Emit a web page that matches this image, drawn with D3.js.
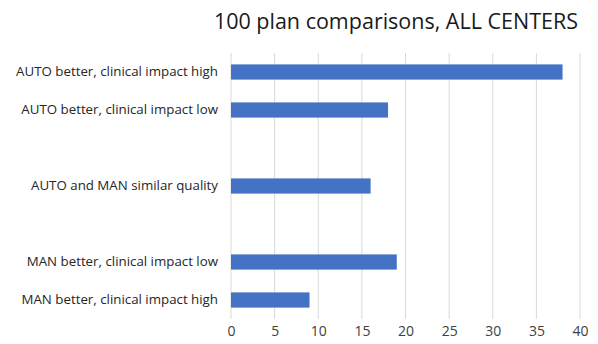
<!DOCTYPE html>
<html>
<head>
<meta charset="utf-8">
<script src="https://cdn.jsdelivr.net/npm/d3@7"></script>
<style>
  body { margin: 0; background: #fff; }
  text { font-family: "Open Sans", "Noto Sans", sans-serif; }
</style>
</head>
<body>
<div class="chart"></div>
<script>
const w = 598;
const h = 344;

// rows top to bottom, blank rows are empty slots in the chart
const categories = [
  'AUTO better, clinical impact high',
  'AUTO better, clinical impact low',
  'gap1',
  'AUTO and MAN similar quality',
  'gap2',
  'MAN better, clinical impact low',
  'MAN better, clinical impact high'
];
const values = [38, 18, null, 16, null, 19, 9];
const xTicks = [0, 5, 10, 15, 20, 25, 30, 35, 40];
const title = '100 plan comparisons, ALL CENTERS';

const plotLeft = 231;
const plotRight = 580;
const plotTop = 53;
const plotBottom = 319;

const svg = d3.select('.chart')
  .append('svg')
  .attr('width', w)
  .attr('height', h);

const xScale = d3.scaleLinear().domain([0, 40]).range([plotLeft, plotRight]);
const yScale = d3.scaleBand()
  .domain(categories)
  .range([plotTop, plotBottom])
  .paddingInner(0.6)
  .paddingOuter(0.3);

// gridlines
svg.append('g')
  .selectAll('line')
  .data(xTicks)
  .enter()
  .append('line')
  .attr('x1', d => xScale(d))
  .attr('x2', d => xScale(d))
  .attr('y1', plotTop)
  .attr('y2', plotBottom)
  .attr('stroke', '#d9d9d9')
  .attr('stroke-width', 1);

// bars
const rows = categories.map((c, i) => ({ c, v: values[i] })).filter(d => d.v != null);
svg.append('g')
  .selectAll('rect')
  .data(rows)
  .enter()
  .append('rect')
  .attr('x', xScale(0))
  .attr('y', d => yScale(d.c))
  .attr('width', d => xScale(d.v) - xScale(0))
  .attr('height', yScale.bandwidth())
  .attr('fill', '#4472c4');

// category labels
const yAxis = d3.axisLeft(yScale)
  .tickSize(0)
  .tickPadding(13)
  .tickFormat(d => d.startsWith('gap') ? '' : d);
svg.append('g')
  .attr('transform', `translate(${plotLeft},0)`)
  .call(yAxis)
  .call(g => g.select('.domain').remove())
  .selectAll('text')
  .attr('font-size', 13.3)
  .attr('fill', '#262626');

// bottom axis labels
const xAxis = d3.axisBottom(xScale).tickValues(xTicks).tickSize(0).tickPadding(5);
svg.append('g')
  .attr('transform', `translate(0,${plotBottom + 2})`)
  .call(xAxis)
  .call(g => g.select('.domain').remove())
  .selectAll('text')
  .attr('font-size', 14)
  .attr('fill', '#404040');

svg.append('text')
  .attr('x', 578)
  .attr('y', 29)
  .attr('text-anchor', 'end')
  .attr('font-size', 21.5)
  .attr('fill', '#1a1a1a')
  .text(title);
</script>
</body>
</html>
